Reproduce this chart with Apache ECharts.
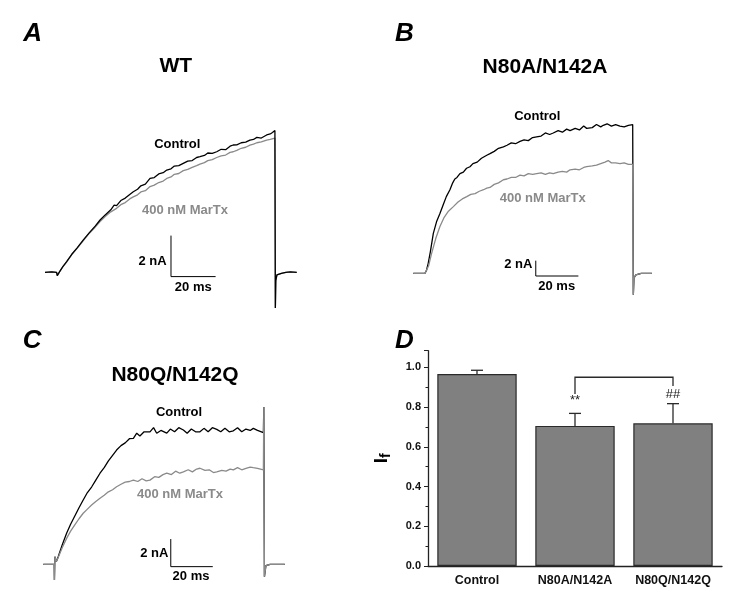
<!DOCTYPE html>
<html><head><meta charset="utf-8">
<script src="https://cdn.jsdelivr.net/npm/echarts@6/dist/echarts.min.js"></script>
<style>html,body{margin:0;padding:0;background:#fff}#c{width:733px;height:609px}</style>
</head><body><div id="c"></div>
<script>
// ---- Panel A (WT) traces: [time ms, current nA]
var wtControl = [[0,0],[3,0.02],[5.2,0],[5.5,-0.16],[6.5,0.02],[8,0.28],[9.7,0.52],[12,0.88],[14.5,1.2],[17.2,1.58],[20,1.95],[22.5,2.25],[24.7,2.55],[27,2.8],[29.5,3.05],[31,3.28],[32.1,3.25],[34,3.5],[36,3.62],[38,3.8],[39.6,3.93],[41.5,4.05],[43,4.22],[45,4.3],[47.1,4.58],[49,4.62],[51,4.8],[53,4.86],[54.6,4.99],[56.5,5.05],[58,5.18],[60,5.2],[62,5.31],[64,5.42],[66,5.45],[68,5.6],[69.5,5.64],[71.5,5.7],[73,5.82],[75,5.8],[77,5.88],[79,6.0],[81,5.98],[83,6.15],[84.4,6.21],[86,6.22],[88,6.32],[90,6.35],[91.9,6.45],[93.5,6.48],[95,6.58],[97,6.55],[99.4,6.7],[101,6.75],[102,6.82],[103.1,6.92],[103.3,-1.74],[103.5,-0.4],[104,-0.13],[106,-0.05],[108,0],[110,0.02],[112.9,0]];
var wtMarTx = [[0,0],[3,0.02],[5.2,0],[5.5,-0.16],[6.5,0.02],[8,0.27],[9.7,0.5],[12,0.86],[14.5,1.18],[17.2,1.55],[20,1.92],[22.5,2.2],[24.7,2.48],[27,2.72],[29.5,2.95],[32.1,3.12],[34,3.3],[36,3.4],[38,3.58],[39.6,3.68],[41.5,3.78],[43,3.92],[45,3.98],[47.1,4.18],[49,4.25],[51,4.38],[53,4.45],[54.6,4.58],[56.5,4.65],[58,4.78],[60,4.82],[62,4.96],[64,5.02],[66,5.12],[68,5.2],[69.5,5.28],[71.5,5.35],[73,5.45],[75,5.5],[77,5.6],[79,5.68],[81,5.72],[83,5.85],[84.4,5.88],[86,5.95],[88,6.05],[90,6.1],[91.9,6.2],[93.5,6.25],[95,6.32],[97,6.36],[99.4,6.45],[101,6.48],[103.1,6.55],[103.3,-1.74],[103.5,-0.4],[104,-0.13],[106,-0.05],[108,0],[110,0.02],[112.9,0]];
// ---- Panel B (N80A/N142A)
var aaControl = [[0,0],[3,0],[5.5,0],[6.2,0.4],[7,1.3],[8,2.8],[9.4,5.2],[11,6.8],[12.5,7.8],[14,8.9],[15.5,10.0],[17.2,10.9],[18.5,11.8],[19.5,12.3],[20.5,12.5],[21.9,13.0],[23.5,13.2],[25,13.7],[26.6,13.9],[28,14.3],[30,14.5],[32,15.0],[34.5,15.4],[36,15.6],[38,15.9],[40,16.3],[42.3,16.5],[44,16.7],[46,17.0],[48,16.9],[50.1,17.2],[52,17.4],[54,17.3],[56,17.7],[57.9,17.8],[60,17.9],[62,18.3],[64,18.1],[65.7,18.3],[68,18.6],[70,18.4],[72,18.8],[73.6,18.6],[76,18.9],[78,18.7],[80,19.2],[81.4,18.9],[84,19.0],[86,19.4],[88,19.1],[89.2,19.3],[91,19.5],[93,19.2],[95,19.4],[97,19.2],[99,19.1],[101,19.3],[103,19.4],[103.3,-2.8],[103.6,-0.6],[104.5,-0.2],[107,0],[112,0]];
var aaMarTx = [[0,0],[3,0],[5.5,0],[6.2,0.1],[7.2,1.0],[8.6,2.6],[10.5,4.5],[12.5,6.1],[14.5,7.3],[16.5,8.1],[18.8,8.7],[21,9.3],[23,9.7],[25.1,10.0],[27,10.3],[29,10.4],[31,10.7],[33,10.9],[34.5,11.1],[36,11.2],[38,11.6],[40,11.8],[42.3,12.2],[44,12.3],[46,12.5],[48,12.5],[50.1,12.8],[52,12.7],[54,13.0],[56,12.9],[57.9,13.0],[60,13.1],[62,12.9],[64,13.1],[65.7,13.0],[68,13.2],[70,13.3],[72,13.2],[73.6,13.5],[76,13.6],[78,13.5],[80,13.8],[81.4,13.9],[84,14.0],[86,14.1],[88,14.3],[90,14.5],[91.5,14.7],[93,14.4],[95,14.4],[97,14.3],[99,14.4],[101,14.2],[103,14.2],[103.3,-2.8],[103.6,-0.6],[104.5,-0.2],[107,0],[112,0]];
// ---- Panel C (N80Q/N142Q)
var qqControl = [[0,0],[3,0],[5.2,0],[5.3,-1.14],[5.5,0.55],[6.2,0.2],[7.1,0.55],[9,1.4],[11.1,2.25],[13,2.9],[15,3.5],[17,4.1],[19,4.66],[21,5.2],[23,5.6],[25,6.1],[27,6.6],[29,7.0],[31,7.5],[33,7.9],[34.9,8.28],[37,8.6],[39,8.8],[41,9.1],[42.9,9.13],[44.5,9.5],[46,9.3],[48,9.6],[50.8,9.6],[52.5,9.9],[54,9.5],[56,9.7],[58.8,9.5],[60.5,9.8],[62.5,9.6],[64.5,9.9],[66.7,9.73],[68.5,9.5],[70.5,9.8],[72.5,9.6],[74.6,9.6],[76.5,9.85],[78.5,9.6],[80.5,9.9],[82.6,9.78],[84.5,9.6],[86.5,9.85],[88.5,9.6],[90.5,9.67],[92.5,9.9],[94.5,9.6],[96.5,9.8],[98.5,9.7],[100,9.85],[102,9.7],[104.8,9.54],[105,11.4],[105.3,-0.9],[106,-0.1],[108,0],[115,0]];
var qqMarTx = [[0,0],[3,0],[5.2,0],[5.3,-1.14],[5.5,0.55],[6.2,0.2],[7.1,0.5],[9,1.2],[11.1,1.88],[13,2.4],[15,2.85],[17,3.3],[19,3.7],[21,4.0],[23,4.3],[25,4.55],[27,4.78],[29,5.0],[31,5.25],[33,5.4],[34.9,5.62],[37,5.8],[39,5.95],[41,6.0],[42.9,6.1],[45,6.0],[47,6.2],[49,6.05],[50.8,6.1],[53,6.35],[55,6.3],[57,6.5],[58.8,6.6],[61,6.5],[63,6.75],[65,6.6],[66.7,6.7],[69,6.85],[71,6.7],[73,6.9],[74.6,6.96],[77,6.8],[79,6.85],[81,6.65],[82.6,6.7],[85,6.8],[87,6.75],[89,6.9],[90.5,6.84],[92.5,7.0],[94.5,6.85],[96.5,6.95],[98.5,7.05],[100,7.0],[102,6.95],[104.8,6.84],[105,11.4],[105.3,-0.9],[106,-0.1],[108,0],[115,0]];
// ---- Scale bars [time ms, current nA]: 2 nA / 20 ms
var scaleA = [[56.5,1.79],[56.5,-0.21],[76.5,-0.21]];
var scaleB = [[57.5,1.65],[57.5,-0.35],[77.5,-0.35]];
var scaleC = [[60.7,1.83],[60.7,-0.17],[80.7,-0.17]];
// ---- Panel D bar chart
var barCategories = ['Control','N80A/N142A','N80Q/N142Q'];
var barValues = [0.966, 0.705, 0.718];
var barErrUpper = [0.985, 0.768, 0.817];
var yTicks = [0, 0.2, 0.4, 0.6, 0.8, 1.0];
var bracket = [1, 2, 0.95, 0.866, 0.906]; // from cat, to cat, top, left end, right end
var sigMarks = [[1, 0.835], [2, 0.862]];
var sigLabels = ['**', '##'];

var FONT = 'Liberation Sans, Arial, sans-serif';
var chart = echarts.init(document.getElementById('c'));

function hiddenAxes(min, max) {
  return {type:'value', min:min, max:max, show:false};
}
function trace(data, color, xi, z) {
  return {type:'line', data:data, xAxisIndex:xi, yAxisIndex:xi, showSymbol:false, symbol:'none',
    lineStyle:{color:color, width:1.3}, z:z, silent:true};
}
function scaleSeries(data, xi) {
  return {type:'line', data:data, xAxisIndex:xi, yAxisIndex:xi, showSymbol:false, symbol:'none',
    lineStyle:{color:'#000', width:1}, z:5, silent:true};
}
function txt(x, y, s, size, opts) {
  opts = opts || {};
  return {type:'text', x:x, y:y, silent:true, style:{text:s, fill:opts.fill || '#000',
    font:(opts.italic ? 'italic ' : '') + (opts.weight || 'bold') + ' ' + size + 'px ' + FONT,
    textAlign:opts.align || 'center', textVerticalAlign:'middle'}};
}

var GRAY = '#8a8a8a';

chart.setOption({
  animation:false,
  backgroundColor:'#fff',
  grid:[
    {left:45, top:108.3, width:267.6, height:205},
    {left:413.3, top:104.6, width:255.6, height:199.4},
    {left:43.3, top:398.7, width:252, height:193.2},
    {left:428, top:350.7, width:294, height:215.3}
  ],
  xAxis:[
    Object.assign(hiddenAxes(0,120), {gridIndex:0}),
    Object.assign(hiddenAxes(0,120), {gridIndex:1}),
    Object.assign(hiddenAxes(0,120), {gridIndex:2}),
    {gridIndex:3, type:'category', data:barCategories,
      axisLine:{lineStyle:{color:'#222', width:1.3}}, axisTick:{show:false},
      axisLabel:{interval:0, color:'#111', fontFamily:FONT, fontWeight:'bold', fontSize:12.5, margin:8}}
  ],
  yAxis:[
    Object.assign(hiddenAxes(-2,8), {gridIndex:0}),
    Object.assign(hiddenAxes(-4,22), {gridIndex:1}),
    Object.assign(hiddenAxes(-2,12), {gridIndex:2}),
    {gridIndex:3, type:'value', min:0, max:1.0835, interval:0.2, splitLine:{show:false},
      axisLine:{show:true, lineStyle:{color:'#222', width:1.3}},
      axisTick:{show:true, length:4, lineStyle:{color:'#222', width:1}},
      minorTick:{show:true, splitNumber:2, length:2.5, lineStyle:{color:'#222', width:1}},
      axisLabel:{color:'#111', fontFamily:FONT, fontWeight:'bold', fontSize:11, margin:7, showMaxLabel:false,
        formatter:function(v){ var r = Math.round(v*10)/10; return (yTicks.indexOf(r) >= 0 && Math.abs(v - r) < 1e-6) ? v.toFixed(1) : ''; }},
      name:'{i|I}{f|f}', nameLocation:'middle', nameGap:35, nameRotate:90,
      nameTextStyle:{rich:{i:{fontFamily:FONT, fontWeight:'bold', fontSize:19, color:'#000'},
        f:{fontFamily:FONT, fontWeight:'bold', fontSize:14, color:'#000', verticalAlign:'bottom', padding:[8,0,0,0]}}}}
  ],
  series:[
    trace(wtMarTx, GRAY, 0, 2),
    trace(wtControl, '#000', 0, 3),
    scaleSeries(scaleA, 0),
    trace(aaControl, '#000', 1, 2),
    trace(aaMarTx, GRAY, 1, 3),
    scaleSeries(scaleB, 1),
    trace(qqControl, '#000', 2, 2),
    trace(qqMarTx, GRAY, 2, 3),
    scaleSeries(scaleC, 2),
    {type:'bar', xAxisIndex:3, yAxisIndex:3, data:barValues, barWidth:'81%',
      itemStyle:{color:'#808080', borderColor:'#2a2a2a', borderWidth:1.2}, z:2, silent:true},
    {type:'custom', xAxisIndex:3, yAxisIndex:3, z:4, silent:true,
      data:barValues.map(function(v,i){ return [i, v, barErrUpper[i]]; }),
      renderItem:function(params, api){
        var a = api.coord([api.value(0), api.value(1)]);
        var b = api.coord([api.value(0), api.value(2)]);
        var st = {stroke:'#2a2a2a', lineWidth:1.3};
        return {type:'group', children:[
          {type:'line', shape:{x1:a[0], y1:a[1], x2:b[0], y2:b[1]}, style:st},
          {type:'line', shape:{x1:b[0]-6, y1:b[1], x2:b[0]+6, y2:b[1]}, style:st}
        ]};
      }},
    {type:'custom', xAxisIndex:3, yAxisIndex:3, z:4, silent:true, data:[bracket],
      renderItem:function(params, api){
        var p1 = api.coord([api.value(0), api.value(3)]);
        var p2 = api.coord([api.value(0), api.value(2)]);
        var p3 = api.coord([api.value(1), api.value(2)]);
        var p4 = api.coord([api.value(1), api.value(4)]);
        return {type:'polyline', shape:{points:[p1,p2,p3,p4]}, style:{stroke:'#2a2a2a', lineWidth:1.3, fill:null}};
      }},
    {type:'custom', xAxisIndex:3, yAxisIndex:3, z:4, silent:true, data:sigMarks,
      renderItem:function(params, api){
        var p = api.coord([api.value(0), api.value(1)]);
        return {type:'text', x:p[0], y:p[1], style:{text:sigLabels[params.dataIndex], fill:'#222',
          font:'normal 13px ' + FONT, textAlign:'center', textVerticalAlign:'middle'}};
      }}
  ],
  graphic:[
    txt(23.3, 34, 'A', 26, {align:'left', italic:true}),
    txt(395, 34, 'B', 26, {align:'left', italic:true}),
    txt(22.7, 341, 'C', 26, {align:'left', italic:true}),
    txt(395, 341, 'D', 26, {align:'left', italic:true}),
    txt(175.7, 66.3, 'WT', 21),
    txt(545, 67, 'N80A/N142A', 21),
    txt(175, 375, 'N80Q/N142Q', 21),
    txt(177.3, 144.3, 'Control', 13),
    txt(185, 210.7, '400 nM MarTx', 13, {fill:GRAY}),
    txt(166.7, 261, '2 nA', 13, {align:'right'}),
    txt(193.3, 287.3, '20 ms', 13),
    txt(537.3, 116.7, 'Control', 13),
    txt(542.7, 198.3, '400 nM MarTx', 13, {fill:GRAY}),
    txt(532.3, 264.3, '2 nA', 13, {align:'right'}),
    txt(556.7, 286, '20 ms', 13),
    txt(179, 412.7, 'Control', 13),
    txt(180, 494.3, '400 nM MarTx', 13, {fill:GRAY}),
    txt(168.3, 553.3, '2 nA', 13, {align:'right'}),
    txt(191, 576, '20 ms', 13)
  ]
});
</script></body></html>
